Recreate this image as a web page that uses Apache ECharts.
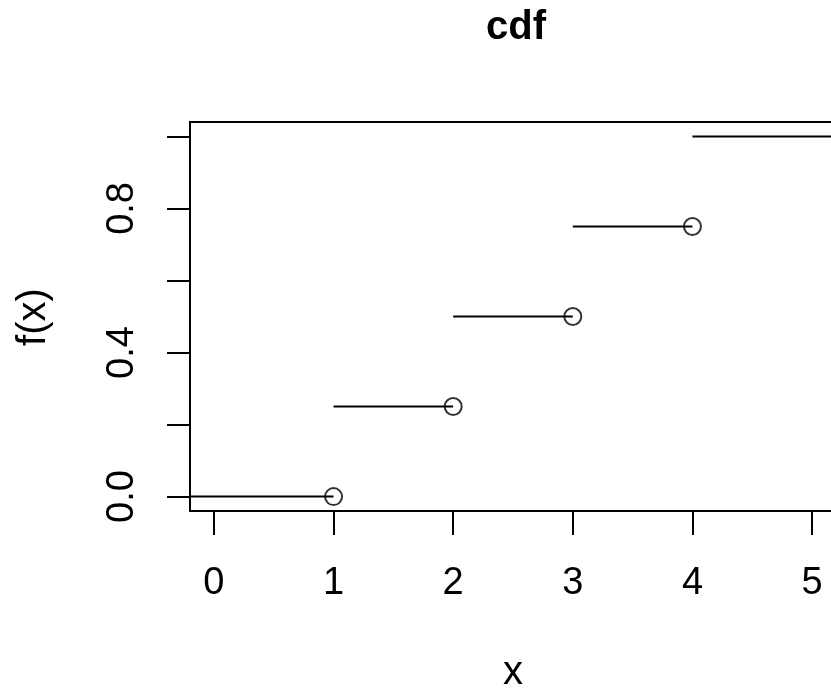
<!DOCTYPE html>
<html>
<head>
<meta charset="utf-8">
<title>cdf</title>
<script src="https://cdn.jsdelivr.net/npm/echarts@6/dist/echarts.min.js"></script>
<style>
  html, body { margin: 0; padding: 0; background: #fff; }
  #chart { width: 831px; height: 693px; }
</style>
</head>
<body>
<div id="chart"></div>
<script>
// Step function: jump points and the level held on each step
const jumpPoints = [1, 2, 3, 4];
const stepLevels = [0, 0.25, 0.5, 0.75, 1];
// Outer ends of the first and last steps (clipped by the plot region)
const leftEnd = -0.5;
const rightEnd = 5.5;

const xTicks = [0, 1, 2, 3, 4, 5];
const yTicks = [0, 0.2, 0.4, 0.6, 0.8, 1.0];
const yTickLabels = [0, 0.4, 0.8];

const FONT = '"Liberation Sans", Arial, Helvetica, sans-serif';
const INK = '#000';
const LABEL_SIZE = 38;

// One horizontal segment per step level
const segmentSeries = stepLevels.map((lvl, i) => {
  const x0 = i === 0 ? leftEnd : jumpPoints[i - 1];
  const x1 = i < jumpPoints.length ? jumpPoints[i] : rightEnd;
  return {
    type: 'line',
    data: [[x0, lvl], [x1, lvl]],
    symbol: 'none',
    clip: true,
    silent: true,
    lineStyle: { color: INK, width: 2 },
    animation: false
  };
});

// Open circles at the right end of each finite step
const circleSeries = {
  type: 'scatter',
  data: jumpPoints.map((x, i) => [x, stepLevels[i]]),
  symbol: 'circle',
  symbolSize: 17,
  silent: true,
  itemStyle: { color: 'rgba(0,0,0,0)', borderColor: INK, borderWidth: 2 },
  animation: false,
  z: 3
};

const chart = echarts.init(document.getElementById('chart'), null, { renderer: 'canvas' });
chart.setOption({
  backgroundColor: '#fff',
  animation: false,
  title: {
    text: 'cdf',
    left: 511,
    top: 3,
    textAlign: 'center',
    textStyle: { fontFamily: FONT, fontWeight: 'bold', fontSize: 40, color: INK }
  },
  grid: {
    left: 190, top: 122, right: -5, bottom: 182,
    show: true, borderColor: INK, borderWidth: 2,
    containLabel: false,
    outerBoundsMode: 'none'
  },
  xAxis: {
    type: 'value',
    min: -0.2, max: 5.2,
    splitLine: { show: false },
    axisLine: { show: false, onZero: false },
    axisTick: {
      show: true, inside: false, length: 24, customValues: xTicks,
      lineStyle: { color: INK, width: 2 }
    },
    axisLabel: {
      customValues: xTicks, margin: 54,
      fontFamily: FONT, fontSize: LABEL_SIZE, color: INK,
      formatter: v => String(v)
    }
  },
  yAxis: {
    type: 'value',
    min: -0.04, max: 1.04,
    splitLine: { show: false },
    axisLine: { show: false, onZero: false },
    axisTick: {
      show: true, inside: false, length: 23, customValues: yTicks,
      lineStyle: { color: INK, width: 2 }
    },
    axisLabel: {
      customValues: yTickLabels, margin: 48, rotate: 90,
      fontFamily: FONT, fontSize: LABEL_SIZE, color: INK,
      formatter: v => Number(v).toFixed(1)
    }
  },
  graphic: [
    {
      type: 'text', x: 513, y: 673, silent: true,
      style: { text: 'x', fontFamily: FONT, fontSize: 40, fill: INK, align: 'center', verticalAlign: 'middle' }
    },
    {
      type: 'text', x: 34, y: 317, rotation: Math.PI / 2, silent: true,
      style: { text: 'f(x)', fontFamily: FONT, fontSize: 40, fill: INK, align: 'center', verticalAlign: 'middle' }
    }
  ],
  series: segmentSeries.concat([circleSeries])
});
</script>
</body>
</html>
